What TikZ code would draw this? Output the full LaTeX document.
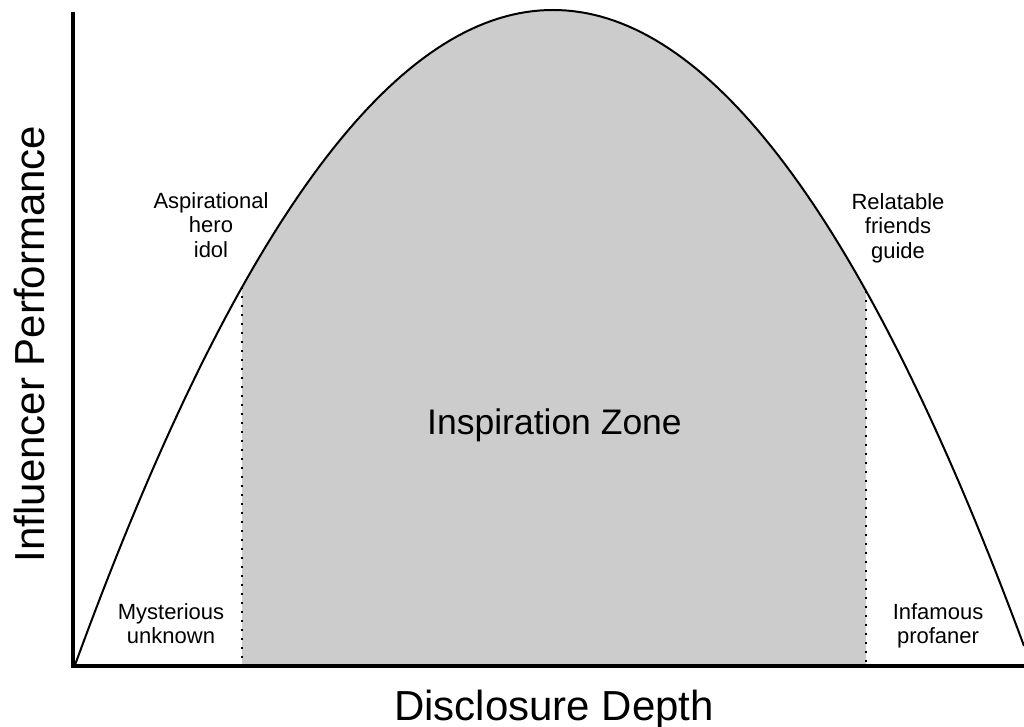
\documentclass[tikz,border=0pt]{standalone}
\usepackage{fontspec}
\setmainfont{Liberation Sans}
\usetikzlibrary{positioning}
\definecolor{zonegray}{HTML}{CCCCCC}
\tikzset{
  axisline/.style={line width=3.5pt, draw=black, line join=miter},
  curveline/.style={line width=2pt, draw=black},
  zonefill/.style={fill=zonegray},
  guideline/.style={line width=2pt, dash pattern=on 2pt off 7pt, draw=black},
  axislabel/.style={inner sep=0pt, anchor=base, font=\fontsize{42}{48}\selectfont},
  zonelabel/.style={inner sep=0pt, anchor=base, font=\fontsize{35.5}{40}\selectfont},
  smalllabel/.style={inner sep=0pt, anchor=north, align=center, font=\fontsize{22}{24.5}\selectfont},
  declare function={perf(\t)=665-655*(1-((\t-553)/478)^2);},
}

\begin{document}
\begin{tikzpicture}[x=1pt, y=-1pt]
  \useasboundingbox (0,0) rectangle (1024,727);
  \fill[zonefill] (242,666) -- plot[domain=242:866, samples=80] (\x,{perf(\x)}) -- (866,666) -- cycle;
  \coordinate (left top) at (242,{perf(242)});
  \coordinate (left base) at (242,666);
  \coordinate (right top) at (866,{perf(866)});
  \coordinate (right base) at (866,666);
  \draw[guideline] (left top) -- (left base);
  \draw[guideline] (right top) -- (right base);
  \begin{scope}
    \clip (0,0) rectangle (1024,727);
    \draw[curveline] plot[domain=75:1024, samples=140] (\x,{perf(\x)});
    \draw[axisline] (73,12) -- (73,666) -- (1030,666);
  \end{scope}
  \node[zonelabel] (zone) at (554.5,434) {Inspiration Zone};
  \node[axislabel] (xlabel) at (554,720) {Disclosure Depth};
  \node[axislabel, rotate=90] (ylabel) at (44,344) {Influencer Performance};
  \node[smalllabel] (hero) at (211,192) {Aspirational\\hero\\idol};
  \node[smalllabel] (friend) at (898,193) {Relatable\\friends\\guide};
  \node[smalllabel] (unknown) at (171,603) {Mysterious\\unknown};
  \node[smalllabel] (profaner) at (938,603) {Infamous\\profaner};
\end{tikzpicture}
\end{document}
